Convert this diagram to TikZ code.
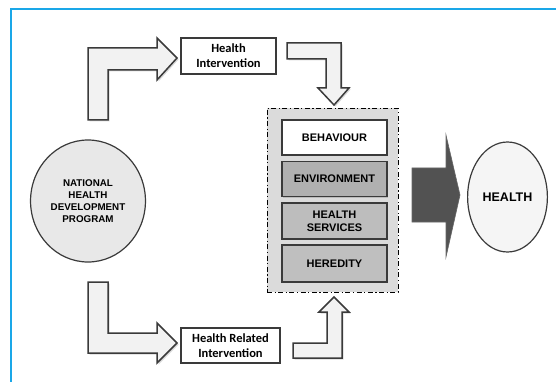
\documentclass[tikz,border=0pt]{standalone}
\usepackage{fontspec}
\setmainfont{Liberation Sans}
\newfontfamily\calib{Carlito}
\usetikzlibrary{shapes.geometric, shadows, positioning}
\definecolor{frameblue}{HTML}{1AA7E8}
\definecolor{edgegray}{HTML}{3A3A3A}
\tikzset{
    oval/.style={ellipse, draw=edgegray, line width=1.2pt, align=center, font=\bfseries},
    labelbox/.style={rectangle, draw=edgegray, line width=1.2pt, fill=white, align=center,
        font=\calib\fontsize{12.5}{15}\selectfont\bfseries},
    factor/.style={rectangle, draw=edgegray, line width=1.6pt, align=center,
        minimum width=105pt, inner sep=0pt, font=\fontsize{11}{13}\selectfont\bfseries,
        drop shadow={shadow xshift=1pt, shadow yshift=-1pt, opacity=0.35}},
    bentarrow/.style={draw=edgegray, line width=1.5pt, fill=gray!10, line join=miter,
        drop shadow={shadow xshift=1.5pt, shadow yshift=-1.5pt, opacity=0.3}},
    bigarrow/.style={draw=gray!80!black, line width=0.6pt, fill=black!68}
}
\begin{document}
\begin{tikzpicture}[x=1pt, y=-1pt]
    \useasboundingbox (0,0) rectangle (556,382);
    % frame
    \draw [frameblue, line width=2.6pt] (11,382) -- (11,9) -- (556,9);

    % source and outcome
    \node (nhdp) [oval, minimum width=97pt, minimum height=122pt, fill=gray!18,
        font=\fontsize{9.8}{12.2}\selectfont\bfseries] at (88,201)
        {NATIONAL\\HEALTH\\DEVELOPMENT\\PROGRAM};
    \node (health) [oval, minimum width=79pt, minimum height=110pt, fill=gray!8,
        font=\fontsize{12.5}{15}\selectfont\bfseries] at (507.5,197) {HEALTH};

    % interventions
    \node (hi) [labelbox, minimum width=95pt, minimum height=36pt] at (228.5,56)
        {Health\\Intervention};
    \node (hri) [labelbox, minimum width=99pt, minimum height=35pt] at (230.5,345.5)
        {Health Related\\Intervention};

    % determinants
    \node (grp) [rectangle, draw, line width=0.9pt, fill=gray!28,
        dash pattern=on 5pt off 2.5pt on 1.2pt off 2.5pt,
        minimum width=131pt, minimum height=184pt] at (332.5,200) {};
    \node (beh) [factor, fill=white, minimum height=35pt] at (334.5,137.5) {BEHAVIOUR};
    \node (env) [factor, fill=gray!62, minimum height=35pt, below=5pt of beh] {ENVIRONMENT};
    \node (hs) [factor, fill=gray!52, minimum height=36pt, below=5pt of env] {HEALTH\\SERVICES};
    \node (her) [factor, fill=gray!50, minimum height=37pt, below=4pt of hs] {HEREDITY};

    % block arrows
    \filldraw [bentarrow] (88,120) -- (88,48) -- (157,48) -- (157,38) -- (177,58)
        -- (157,80) -- (157,70) -- (108,70) -- (108,120) -- cycle;
    \filldraw [bentarrow] (287,43) -- (341,43) -- (341,88) -- (349,88) -- (334,105)
        -- (318,88) -- (326,88) -- (326,59) -- (287,59) -- cycle;
    \filldraw [bentarrow] (88,282) -- (108,282) -- (108,333) -- (157,333) -- (157,323)
        -- (177,343) -- (157,363) -- (157,353) -- (88,353) -- cycle;
    \filldraw [bentarrow] (293,343) -- (327,343) -- (327,312) -- (319,312) -- (334,297)
        -- (349,312) -- (342,312) -- (342,358) -- (293,358) -- cycle;
    \filldraw [bigarrow] (412,168) -- (446,168) -- (446,135) -- (460,195)
        -- (446,257) -- (446,222) -- (412,222) -- cycle;
\end{tikzpicture}
\end{document}
